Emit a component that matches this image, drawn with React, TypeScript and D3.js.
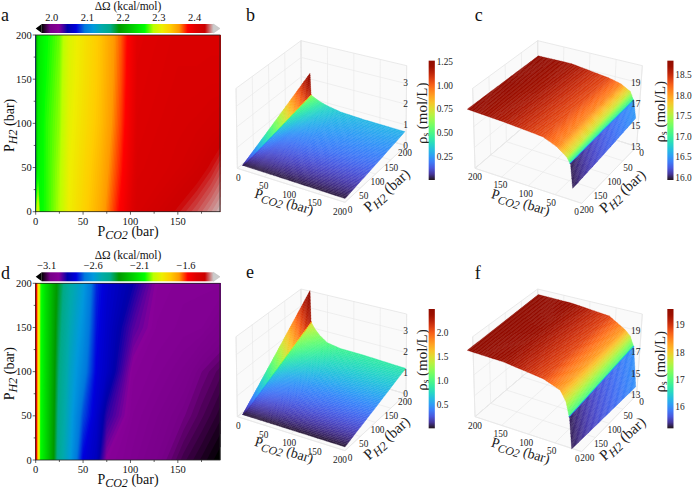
import * as d3 from 'd3';

const WIDTH = 694;
const HEIGHT = 489;
const FONT = '"Liberation Serif", serif';

// nipy_spectral colour stops
const nipyStops = [0, 0.05, 0.1, 0.15, 0.2, 0.25, 0.3, 0.35, 0.4, 0.45, 0.5, 0.55, 0.6, 0.65, 0.7, 0.75, 0.8, 0.85, 0.9, 0.95, 1];
const nipyColors = ['#000000', '#770088', '#880099', '#0000aa', '#0000dd', '#0077dd', '#0099dd', '#00aaaa', '#00aa88', '#009900', '#00bb00', '#00dd00', '#00ff00', '#bbff00', '#eeee00', '#ffcc00', '#ff9900', '#ff0000', '#dd0000', '#cc0000', '#cccccc'];

// heat map a
const heatRows = [0, 50, 100, 150, 200];
const heatAColumns = [0, 1, 2.5, 5, 10, 25, 35, 68, 90, 107, 150, 170, 185, 195];
const heatAValues = [
  [2.07, 2.29, 2.30, 2.26, 2.265, 2.285, 2.31, 2.35, 2.385, 2.415, 2.432, 2.44, 2.447, 2.452],
  [2.07, 2.22, 2.255, 2.258, 2.265, 2.283, 2.308, 2.345, 2.378, 2.41, 2.418, 2.425, 2.432, 2.438],
  [2.07, 2.22, 2.25, 2.255, 2.265, 2.28, 2.305, 2.34, 2.373, 2.407, 2.415, 2.417, 2.42, 2.422],
  [2.07, 2.21, 2.245, 2.252, 2.262, 2.278, 2.302, 2.338, 2.37, 2.405, 2.412, 2.412, 2.413, 2.413],
  [2.07, 2.2, 2.24, 2.25, 2.26, 2.275, 2.3, 2.337, 2.368, 2.403, 2.41, 2.41, 2.41, 2.41],
];

// heat map d
const heatDColumns = [0, 1, 2.5, 5, 10, 20, 24, 36, 50, 64, 75, 103, 128, 156, 175, 195];
const heatDValues = [
  [-1.527, -1.582, -1.823, -2.045, -2.137, -2.34, -2.451, -2.581, -2.784, -2.84, -2.969, -3.006, -3.043, -3.099, -3.126, -3.154],
  [-1.527, -1.582, -1.823, -2.035, -2.133, -2.327, -2.424, -2.563, -2.72, -2.81, -2.9, -2.992, -3.02, -3.06, -3.09, -3.12],
  [-1.527, -1.582, -1.823, -2.026, -2.128, -2.313, -2.396, -2.544, -2.655, -2.784, -2.83, -2.978, -2.997, -3.025, -3.062, -3.089],
  [-1.527, -1.582, -1.823, -2.017, -2.124, -2.299, -2.368, -2.516, -2.618, -2.765, -2.816, -2.928, -2.983, -2.995, -3.0, -3.03],
  [-1.527, -1.582, -1.823, -2.008, -2.119, -2.285, -2.34, -2.488, -2.581, -2.747, -2.803, -2.877, -2.969, -2.988, -2.988, -2.988],
];

// surfaces: rows are PH2, columns PCO2
const surfRows = [0, 100, 200];
const leftColumns = [0, 2, 3, 10, 20, 36, 63, 112, 200];
const rightColumnsC = [0, 4, 5, 11, 30, 56, 132, 200];
const rightColumnsF = [0, 4, 5, 11, 22, 54, 131, 200];

const heightB = [
  [0.02, 0.02, 0.02, 0.02, 0.02, 0.02, 0.02, 0.02, 0.02],
  [1.09, 0.58, 0.56, 0.45, 0.42, 0.38, 0.36, 0.34, 0.34],
  [2.18, 1.16, 1.13, 1.05, 0.95, 0.85, 0.74, 0.69, 0.68],
];
const colorB = [
  [0.04, 0.03, 0.02, 0.02, 0.02, 0.02, 0.02, 0.02, 0.02],
  [0.62, 0.58, 0.31, 0.26, 0.22, 0.2, 0.19, 0.18, 0.17],
  [1.25, 1.15, 0.62, 0.55, 0.48, 0.4, 0.34, 0.31, 0.3],
];

const heightC = [
  [15, 16.6, 16.7, 17.4, 17.9, 18.2, 18.7, 18.7],
  [14.2, 16.2, 16.3, 16.9, 17.55, 18.0, 18.5, 18.7],
  [13.5, 15.75, 15.8, 16.3, 17.06, 17.7, 18.28, 18.7],
];
const colorC = [
  [16.5, 16.5, 17.0, 17.6, 18.1, 18.38, 18.68, 18.82],
  [16.25, 16.25, 16.95, 17.6, 18.1, 18.35, 18.65, 18.8],
  [16.0, 16.0, 16.9, 17.6, 18.1, 18.33, 18.62, 18.78],
];

const heightE = [
  [0.02, 0.02, 0.02, 0.02, 0.02, 0.02, 0.02, 0.02, 0.02],
  [1.84, 1.1, 1.06, 0.95, 0.8, 0.7, 0.65, 0.65, 0.62],
  [3.68, 2.2, 2.14, 1.9, 1.65, 1.4, 1.3, 1.3, 1.24],
];
const colorE = [
  [0.08, 0.06, 0.04, 0.04, 0.04, 0.04, 0.04, 0.04, 0.04],
  [1.25, 1.15, 0.75, 0.65, 0.56, 0.5, 0.46, 0.44, 0.43],
  [2.48, 2.3, 1.5, 1.35, 1.2, 1.05, 0.95, 0.9, 0.85],
];

const heightF = [
  [13.3, 17.0, 17.1, 17.9, 18.4, 19.3, 19.6, 19.6],
  [13.2, 16.5, 16.6, 17.65, 18.35, 19.1, 19.5, 19.55],
  [13.1, 16.0, 16.1, 17.4, 18.3, 18.9, 19.4, 19.5],
];
const colorF = [
  [16.0, 16.0, 17.0, 17.7, 18.3, 18.9, 19.42, 19.57],
  [15.65, 15.65, 16.95, 17.7, 18.3, 18.87, 19.4, 19.56],
  [15.3, 15.3, 16.9, 17.7, 18.3, 18.85, 19.38, 19.55],
];

const pressureTicks = [0, 50, 100, 150, 200];
const zTicksLeft = [0, 1, 2, 3];
const zTicksRight = [13, 15, 17, 19];
const barTicksB = [0.25, 0.5, 0.75, 1.0, 1.25];
const barTicksC = [16.0, 16.5, 17.0, 17.5, 18.0, 18.5];
const barTicksE = [0.5, 1.0, 1.5, 2.0];
const barTicksF = [16, 17, 18, 19];
const heatTicksA = [2.0, 2.1, 2.2, 2.3, 2.4];
const heatTicksD = [-3.1, -2.6, -2.1, -1.6];

type Pt = [number, number];
type Corners = { f00: Pt; f10: Pt; f01: Pt; f11: Pt };

const bilerp = (c: Corners, u: number, v: number): Pt => [
  (1 - u) * (1 - v) * c.f00[0] + u * (1 - v) * c.f10[0] + (1 - u) * v * c.f01[0] + u * v * c.f11[0],
  (1 - u) * (1 - v) * c.f00[1] + u * (1 - v) * c.f10[1] + (1 - u) * v * c.f01[1] + u * v * c.f11[1],
];

const unit = d3.scaleLinear().domain([0, 200]).range([0, 1]);
const line = d3.line();

function NipyGradient({ id }: { id: string }) {
  return (
    <linearGradient id={id}>
      {nipyStops.map((s, i) => <stop key={s} offset={s} stopColor={nipyColors[i]} />)}
    </linearGradient>
  );
}

function Heat(props: {
  letter: string; top: number; letterY: number; titleY: number; columns: number[]; values: number[][];
  domain: [number, number]; ticks: number[]; fmt: (d: number) => string;
}) {
  const { letter, top, letterY, titleY, columns, values, domain, ticks, fmt } = props;
  const left = 35.7, right = 220, bottom = top + 176.7;
  const x = d3.scaleLinear().domain([0, 194.5]).range([left, right]);
  const y = d3.scaleLinear().domain([0, 200]).range([bottom, top]);
  const color = d3.scaleLinear<string>().domain(nipyStops.map(s => domain[0] + s * (domain[1] - domain[0]))).range(nipyColors).clamp(true);
  const low = d3.min(values.flat())!, high = d3.max(values.flat())!;
  const thresholds = d3.range(0, 161).map(i => low + (i / 160) * (high - low));
  const contours = d3.contours().size([columns.length, heatRows.length]).thresholds(thresholds)(values.flat());
  const colIndex = d3.scaleLinear().domain(columns.map((_, i) => i + 0.5)).range(columns).clamp(true);
  const rowIndex = d3.scaleLinear().domain(heatRows.map((_, i) => i + 0.5)).range(heatRows).clamp(true);
  const path = d3.geoPath(d3.geoTransform({
    point(px, py) { this.stream.point(x(colIndex(px)), y(rowIndex(py))); },
  }));
  const barLeft = 41.7, barRight = 213.5, barTop = top - 11, barBottom = top - 2;
  const barX = d3.scaleLinear().domain(domain).range([barLeft, barRight]);
  const gradId = 'nipy' + letter;
  return (
    <g fontFamily={FONT} fill="#111">
      <defs><NipyGradient id={gradId} /></defs>
      {contours.map((c, i) => (
        <path key={i} d={path(c as any) || ''} fill={color(c.value)} />
      ))}
      <rect x={left} y={top} width={right - left} height={bottom - top} fill="none" stroke="#222" strokeWidth={0.8} />
      {d3.range(0, 195, 25).map(d => (
        <line key={d} x1={x(d)} x2={x(d)} y1={bottom} y2={bottom + (d % 50 === 0 ? 3 : 2)} stroke="#222" strokeWidth={0.7} />
      ))}
      {d3.range(0, 201, 25).map(d => (
        <line key={d} x1={left} x2={left - (d % 50 === 0 ? 3 : 2)} y1={y(d)} y2={y(d)} stroke="#222" strokeWidth={0.7} />
      ))}
      {[0, 50, 100, 150].map(d => (
        <text key={d} x={x(d)} y={bottom + 13} fontSize={10.5} textAnchor="middle">{d}</text>
      ))}
      {pressureTicks.map(d => (
        <text key={d} x={left - 4} y={y(d) + 3.5} fontSize={10.5} textAnchor="end">{d}</text>
      ))}
      <text x={128} y={bottom + 24} fontSize={14} textAnchor="middle">
        P<tspan dy={3} fontStyle="italic" fontSize={12}>CO2</tspan><tspan dy={-3}> (bar)</tspan>
      </text>
      <text transform={`translate(14,${(top + bottom) / 2 + 2}) rotate(-90)`} fontSize={14} textAnchor="middle">
        P<tspan dy={3} fontStyle="italic" fontSize={12}>H2</tspan><tspan dy={-3}> (bar)</tspan>
      </text>
      <rect x={barLeft} y={barTop} width={barRight - barLeft} height={barBottom - barTop} fill={`url(#${gradId})`} />
      <path d={line([[barLeft, barTop], [left, (barTop + barBottom) / 2], [barLeft, barBottom]])! + 'Z'} fill="#000" />
      <path d={line([[barRight, barTop], [right, (barTop + barBottom) / 2], [barRight, barBottom]])! + 'Z'} fill="#ccc" stroke="#bbb" strokeWidth={0.5} />
      {ticks.map(d => (
        <text key={d} x={barX(d)} y={barTop - 3} fontSize={10.5} textAnchor="middle">{fmt(d)}</text>
      ))}
      <text x={128} y={titleY} fontSize={11.5} textAnchor="middle">ΔΩ (kcal/mol)</text>
      <text x={1} y={letterY} fontSize={18}>{letter}</text>
    </g>
  );
}

type SurfaceProps = {
  id: string; ox: number; oy: number; letter: string; letterAt: Pt;
  box: Corners; top: Corners; wallU: number; wallV: number;
  zDomain: [number, number]; zTicks: number[]; zLabel: [number, number];
  zLabelX: number;
  labelU: [Pt, Pt]; labelV: [Pt, Pt];
  surface: Corners; zRef: number; zScale: number;
  columns: number[]; heights: number[][]; colors: number[][];
  barX: number; barY: [number, number]; barDomain: [number, number]; barTicks: number[];
  barFmt: (d: number) => string;
  rhoAt: Pt; titleU: Pt; titleV: Pt;
};

function Surface(p: SurfaceProps) {
  const color = d3.scaleSequential(d3.interpolateTurbo).domain(p.barDomain);
  const zFrac = d3.scaleLinear().domain(p.zDomain).range([0, 1]);
  const boxAt = (u: number, v: number, w: number): Pt => {
    const a = bilerp(p.box, u, v), b = bilerp(p.top, u, v);
    return [a[0] + (b[0] - a[0]) * w, a[1] + (b[1] - a[1]) * w];
  };

  // shade each cell of the read grid in small patches, painted back to front
  const patches: { d: string; fill: string; depth: number }[] = [];
  const nc = p.columns.length, nr = surfRows.length;
  const sampleAt = (grid: number[][], ci: number, ri: number) => {
    const c0 = Math.min(Math.floor(ci), nc - 2), r0 = Math.min(Math.floor(ri), nr - 2);
    const s = ci - c0, t = ri - r0;
    return (1 - s) * (1 - t) * grid[r0][c0] + s * (1 - t) * grid[r0][c0 + 1] + (1 - s) * t * grid[r0 + 1][c0] + s * t * grid[r0 + 1][c0 + 1];
  };
  const columnU = d3.scaleLinear().domain(p.columns.map((_, i) => i)).range(p.columns.map(c => unit(c)));
  const rowV = d3.scaleLinear().domain(surfRows.map((_, i) => i)).range(surfRows.map(r => unit(r)));
  const place = (ci: number, ri: number): Pt => {
    const f = bilerp(p.surface, columnU(ci), rowV(ri));
    return [f[0], f[1] - (sampleAt(p.heights, ci, ri) - p.zRef) * p.zScale];
  };
  const subC = 10, subR = 28;
  for (let c = 0; c < (nc - 1) * subC; c++) {
    for (let r = 0; r < (nr - 1) * subR; r++) {
      const c0 = c / subC, c1 = (c + 1) / subC, r0 = r / subR, r1 = (r + 1) / subR;
      const value = sampleAt(p.colors, (c0 + c1) / 2, (r0 + r1) / 2);
      const floor = bilerp(p.surface, columnU((c0 + c1) / 2), rowV((r0 + r1) / 2));
      patches.push({
        d: line([place(c0, r0), place(c1, r0), place(c1, r1), place(c0, r1)])! + 'Z',
        fill: color(value),
        depth: floor[1],
      });
    }
  }
  patches.sort((a, b) => a.depth - b.depth);

  const wallA = [boxAt(p.wallU, 0, 0), boxAt(p.wallU, 1, 0), boxAt(p.wallU, 1, 1), boxAt(p.wallU, 0, 1)];
  const wallB = [boxAt(0, p.wallV, 0), boxAt(1, p.wallV, 0), boxAt(1, p.wallV, 1), boxAt(0, p.wallV, 1)];
  const floorPts = [boxAt(0, 0, 0), boxAt(1, 0, 0), boxAt(1, 1, 0), boxAt(0, 1, 0)];
  const grid = '#e8e8e8';
  const labelPos = (seg: [Pt, Pt], d: number): Pt => [
    seg[0][0] + (seg[1][0] - seg[0][0]) * unit(d),
    seg[0][1] + (seg[1][1] - seg[0][1]) * unit(d),
  ];
  const zLabelY = d3.scaleLinear().domain([p.zTicks[0], p.zTicks[p.zTicks.length - 1]]).range(p.zLabel);
  const barY = d3.scaleLinear().domain(p.barDomain).range([p.barY[1], p.barY[0]]);
  const gradId = 'turbo' + p.id;

  return (
    <g transform={`translate(${p.ox},${p.oy}) scale(${1 / 3})`} fontFamily={FONT} fill="#222">
      <defs>
        <linearGradient id={gradId} x1="0" x2="0" y1="1" y2="0">
          {d3.range(0, 1.01, 0.05).map(t => <stop key={t} offset={t} stopColor={d3.interpolateTurbo(t)} />)}
        </linearGradient>
      </defs>
      {[wallA, wallB, floorPts].map((pts, i) => (
        <path key={i} d={line(pts)! + 'Z'} fill="#fafafa" stroke="#e0e0e0" strokeWidth={2} />
      ))}
      {pressureTicks.map(d => (
        <g key={d} fill="none" stroke={grid} strokeWidth={2}>
          <path d={line([boxAt(unit(d), 0, 0), boxAt(unit(d), 1, 0)])!} />
          <path d={line([boxAt(0, unit(d), 0), boxAt(1, unit(d), 0)])!} />
          <path d={line([boxAt(unit(d), p.wallV, 0), boxAt(unit(d), p.wallV, 1)])!} />
          <path d={line([boxAt(p.wallU, unit(d), 0), boxAt(p.wallU, unit(d), 1)])!} />
        </g>
      ))}
      {p.zTicks.map(d => (
        <g key={d} fill="none" stroke={grid} strokeWidth={2}>
          <path d={line([boxAt(0, p.wallV, zFrac(d)), boxAt(1, p.wallV, zFrac(d))])!} />
          <path d={line([boxAt(p.wallU, 0, zFrac(d)), boxAt(p.wallU, 1, zFrac(d))])!} />
        </g>
      ))}
      {patches.map((q, i) => <path key={i} d={q.d} fill={q.fill} stroke={q.fill} strokeWidth={1} />)}
      {pressureTicks.map(d => {
        const a = labelPos(p.labelU, d), b = labelPos(p.labelV, d);
        return (
          <g key={d} fontSize={28} textAnchor="middle">
            <text x={a[0]} y={a[1] + 9}>{d}</text>
            <text x={b[0]} y={b[1] + 9}>{d}</text>
          </g>
        );
      })}
      {p.zTicks.map(d => (
        <text key={d} x={p.zLabelX} y={zLabelY(d) + 9} fontSize={28} textAnchor="middle">{d}</text>
      ))}
      <text transform={`translate(${p.titleU[0]},${p.titleU[1]}) rotate(17)`} fontSize={42} textAnchor="middle">
        P<tspan dy={9} fontStyle="italic" fontSize={35}>CO2</tspan><tspan dy={-9}> (bar)</tspan>
      </text>
      <text transform={`translate(${p.titleV[0]},${p.titleV[1]}) rotate(-42)`} fontSize={45} textAnchor="middle">
        P<tspan dy={9} fontStyle="italic" fontSize={37}>H2</tspan><tspan dy={-9}> (bar)</tspan>
      </text>
      <text transform={`translate(${p.rhoAt[0]},${p.rhoAt[1]}) rotate(-90)`} fontSize={45} textAnchor="middle">
        ρ<tspan dy={6} fontSize={28}>s</tspan><tspan dy={-6}> (mol/L)</tspan>
      </text>
      <rect x={p.barX} y={p.barY[0]} width={18.5} height={p.barY[1] - p.barY[0]} fill={`url(#${gradId})`} />
      {p.barTicks.map(d => (
        <text key={d} x={p.barX + 24} y={barY(d) + 10} fontSize={28}>{p.barFmt(d)}</text>
      ))}
      <text x={p.letterAt[0]} y={p.letterAt[1]} fontSize={54} fill="#111">{p.letter}</text>
    </g>
  );
}

const boxLeft = (dy: number): Corners => ({ f00: [22, 505 + dy], f10: [345, 607 + dy], f11: [528, 437 + dy], f01: [215, 345 + dy] });
const topLeft = (dy: number): Corners => ({ f00: [18, 265 + dy], f10: [347, 370 + dy], f11: [530, 197 + dy], f01: [213, 122 + dy] });
const boxRight = (dy: number): Corners => ({ f10: [233, 345 + dy], f11: [45, 505 + dy], f01: [365, 610 + dy], f00: [530, 440 + dy] });
const topRight = (dy: number): Corners => ({ f10: [233, 122 + dy], f11: [38, 265 + dy], f01: [365, 370 + dy], f00: [547, 197 + dy] });

export default function App() {
  return (
    <svg width={WIDTH} height={HEIGHT} style={{ position: 'absolute', left: 0, top: 0, background: '#fff' }}>
      <Heat letter="a" top={35} letterY={21} titleY={10} columns={heatAColumns} values={heatAValues} domain={[1.972, 2.453]} ticks={heatTicksA} fmt={d3.format('.1f')} />
      <Heat letter="d" top={283.3} letterY={279} titleY={259} columns={heatDColumns} values={heatDValues} domain={[-3.154, -1.305]} ticks={heatTicksD} fmt={d => d3.format('.1f')(d).replace('-', '−')} />
      <Surface id="b" ox={230} oy={0} letter="b" letterAt={[48, 63]}
        box={boxLeft(0)} top={topLeft(0)} wallU={0} wallV={1}
        zDomain={[0, 3.87]} zTicks={zTicksLeft} zLabel={[437, 250]} zLabelX={527}
        labelU={[[25, 533], [330, 635]]} labelV={[[360, 630], [525, 460]]}
        surface={{ f00: [38, 497], f10: [345, 597], f11: [525, 437], f01: [240, 355] }} zRef={0} zScale={62}
        columns={leftColumns} heights={heightB} colors={colorB}
        barX={596} barY={[182, 540]} barDomain={[0.004, 1.26]} barTicks={barTicksB} barFmt={d3.format('.2f')}
        rhoAt={[590, 340]} titleU={[158, 618]} titleV={[480, 582]} />
      <Surface id="c" ox={460} oy={0} letter="c" letterAt={[44, 63]}
        box={boxRight(0)} top={topRight(0)} wallU={1} wallV={0}
        zDomain={[13, 20.67]} zTicks={zTicksRight} zLabel={[440, 250]} zLabelX={527}
        labelU={[[350, 635], [45, 530]]} labelV={[[545, 460], [380, 630]]}
        surface={{ f00: [527, 419], f01: [338, 581], f11: [22, 510], f10: [235, 350] }} zRef={13} zScale={32}
        columns={rightColumnsC} heights={heightC} colors={colorC}
        barX={622} barY={[182, 540]} barDomain={[15.94, 18.85]} barTicks={barTicksC} barFmt={d3.format('.1f')}
        rhoAt={[615, 335]} titleU={[178, 620]} titleV={[497, 585]} />
      <Surface id="e" ox={230} oy={245} letter="e" letterAt={[48, 100]}
        box={boxLeft(10)} top={topLeft(10)} wallU={0} wallV={1}
        zDomain={[0, 3.87]} zTicks={zTicksLeft} zLabel={[447, 258]} zLabelX={527}
        labelU={[[25, 543], [330, 645]]} labelV={[[360, 640], [525, 472]]}
        surface={{ f00: [38, 510], f10: [345, 607], f11: [527, 447], f01: [240, 365] }} zRef={0} zScale={62}
        columns={leftColumns} heights={heightE} colors={colorE}
        barX={596} barY={[192, 550]} barDomain={[0.017, 2.48]} barTicks={barTicksE} barFmt={d3.format('.1f')}
        rhoAt={[590, 345]} titleU={[158, 628]} titleV={[480, 590]} />
      <Surface id="f" ox={460} oy={245} letter="f" letterAt={[44, 102]}
        box={boxRight(10)} top={topRight(10)} wallU={1} wallV={0}
        zDomain={[13, 20.67]} zTicks={zTicksRight} zLabel={[450, 258]} zLabelX={527}
        labelU={[[352, 643], [45, 542]]} labelV={[[545, 472], [382, 640]]}
        surface={{ f00: [527, 435], f01: [335, 615], f11: [22, 524], f10: [235, 360] }} zRef={13} zScale={32}
        columns={rightColumnsF} heights={heightF} colors={colorF}
        barX={622} barY={[192, 550]} barDomain={[15.2, 19.59]} barTicks={barTicksF} barFmt={d3.format('d')}
        rhoAt={[615, 350]} titleU={[178, 630]} titleV={[497, 592]} />
    </svg>
  );
}
